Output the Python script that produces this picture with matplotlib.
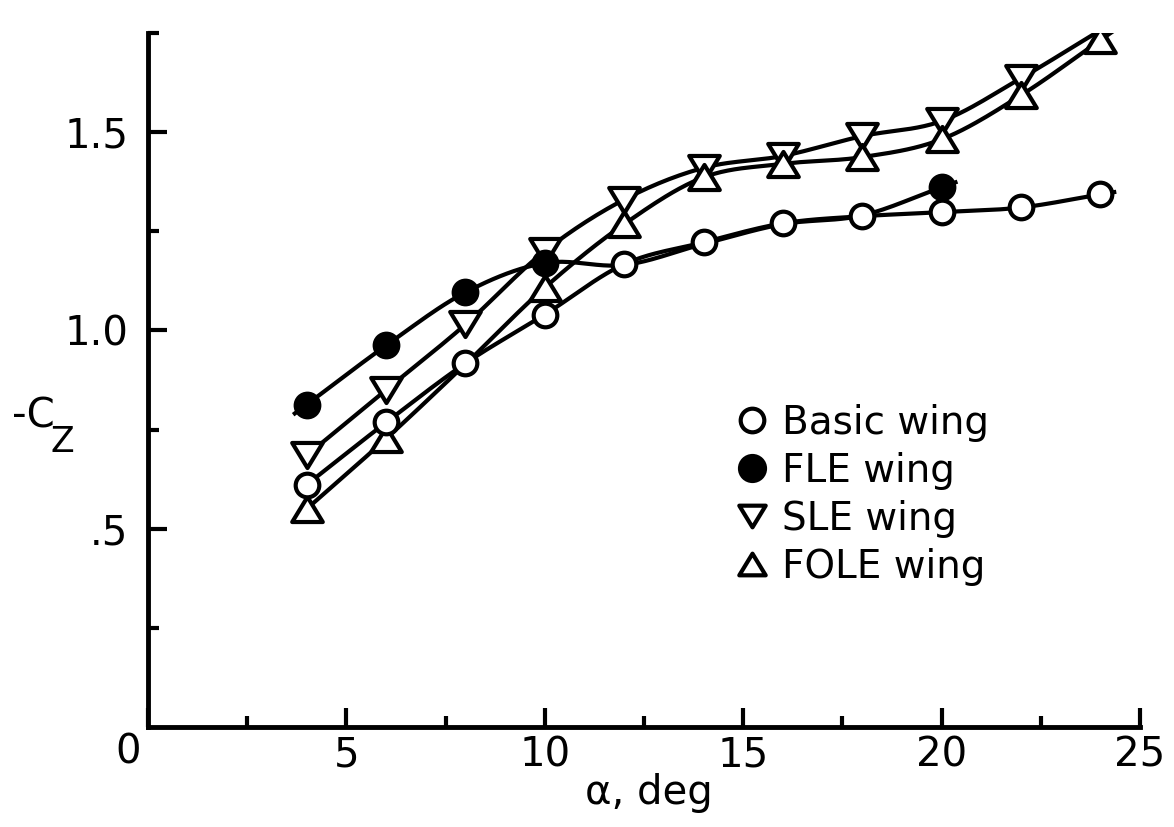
import numpy as np
import matplotlib.pyplot as plt
from matplotlib.path import Path
from matplotlib.lines import Line2D

plt.rcParams['font.family'] = ['DejaVu Sans']

# normal-force coefficient against angle of attack
alpha = [4, 6, 8, 10, 12, 14, 16, 18, 20, 22, 24]
basic = [0.611, 0.768, 0.917, 1.040, 1.167, 1.222, 1.270, 1.288, 1.298, 1.310, 1.343]
sle = [0.685, 0.850, 1.015, 1.200, 1.330, 1.410, 1.440, 1.490, 1.528, 1.636, 1.757]
fole = [0.550, 0.727, 0.915, 1.108, 1.268, 1.386, 1.420, 1.437, 1.482, 1.593, 1.732]
fole_symbols = [0, 1, 3, 4, 5, 6, 7, 8, 9, 10]

fle_alpha = [4, 6, 8, 10, 12, 14, 16, 18, 20]
fle = [0.813, 0.962, 1.096, 1.170, 1.165, 1.218, 1.268, 1.290, 1.361]
fle_symbols = [0, 1, 2, 3, 8]

labels = ['Basic wing', 'FLE wing', 'SLE wing', 'FOLE wing']


def faired(x, y, head=0.0, tail=0.0, n=24):
    # Catmull-Rom fairing through the points, with short straight stubs at the ends
    x = np.asarray(x, float)
    y = np.asarray(y, float)
    px = np.concatenate([[2 * x[0] - x[1]], x, [2 * x[-1] - x[-2]]])
    py = np.concatenate([[2 * y[0] - y[1]], y, [2 * y[-1] - y[-2]]])
    t = np.linspace(0, 1, n)
    xs, ys = [], []
    for i in range(1, len(px) - 2):
        p0, p1, p2, p3 = py[i - 1], py[i], py[i + 1], py[i + 2]
        yy = 0.5 * (2 * p1 + (p2 - p0) * t + (2 * p0 - 5 * p1 + 4 * p2 - p3) * t ** 2
                    + (3 * p1 - p0 - 3 * p2 + p3) * t ** 3)
        xs.append(px[i] + (px[i + 1] - px[i]) * t)
        ys.append(yy)
    xs = np.concatenate(xs)
    ys = np.concatenate(ys)
    if head:
        s = (y[1] - y[0]) / (x[1] - x[0])
        xs = np.concatenate([[x[0] - head], xs])
        ys = np.concatenate([[y[0] - head * s], ys])
    if tail:
        s = (y[-1] - y[-2]) / (x[-1] - x[-2])
        xs = np.concatenate([xs, [x[-1] + tail]])
        ys = np.concatenate([ys, [y[-1] + tail * s]])
    return xs, ys


def tri(up=True):
    h = 0.82 if up else -0.82
    return Path([(-1, -h), (1, -h), (0, h), (-1, -h)], closed=True)


fig = plt.figure(figsize=(11.74, 8.27), dpi=100)
ax = fig.add_axes([148 / 1174, 100 / 827, 992 / 1174, 694 / 827])

lw = 3.0
ax.plot(*faired(alpha, basic, tail=0.35), color='black', lw=lw, zorder=2)
ax.plot(*faired(fle_alpha, fle, head=0.3, tail=0.35), color='black', lw=lw, zorder=2)
ax.plot(*faired(alpha, sle, tail=0.4), color='black', lw=lw, zorder=2)
ax.plot(*faired(alpha, fole, tail=0.45), color='black', lw=lw, zorder=2)

ms = dict(ls='none', mec='black', mew=3.0, zorder=3)
ax.plot(alpha, sle, marker=tri(False), ms=22, mfc='white', **ms)
ax.plot([alpha[i] for i in fole_symbols], [fole[i] for i in fole_symbols],
        marker=tri(True), ms=22, mfc='white', **ms)
ax.plot(alpha, basic, marker='o', ms=17, mfc='white', **ms)
ax.plot([fle_alpha[i] for i in fle_symbols], [fle[i] for i in fle_symbols],
        marker='o', ms=17, mfc='black', **ms)

handles = [
    Line2D([], [], marker='o', ms=17, mfc='white', **ms),
    Line2D([], [], marker='o', ms=18, mfc='black', **ms),
    Line2D([], [], marker=tri(False), ms=19, mfc='white', **ms),
    Line2D([], [], marker=tri(True), ms=19, mfc='white', **ms),
]
ax.legend(handles, labels, loc='upper left', bbox_to_anchor=(0.572, 0.494),
          frameon=False, fontsize=28, handlelength=0.9, handletextpad=0.3,
          labelspacing=0.26, borderpad=0)

ax.set_xlim(0, 25)
ax.set_ylim(0, 1.75)
ax.set_xticks([0, 5, 10, 15, 20, 25])
ax.set_xticklabels(['', '5', '10', '15', '20', '25'])
ax.set_xticks(np.arange(2.5, 25, 5), minor=True)
ax.set_yticks([0.5, 1.0, 1.5])
ax.set_yticklabels(['.5', '1.0', '1.5'])
ax.set_yticks([0.25, 0.75, 1.25, 1.75], minor=True)

ax.tick_params(which='both', direction='in', width=3, labelsize=29)
ax.tick_params(which='major', length=14)
ax.tick_params(which='minor', length=8)
ax.tick_params(axis='x', pad=6)
ax.tick_params(axis='y', pad=14)

for side in ['top', 'right']:
    ax.spines[side].set_visible(False)
for side in ['left', 'bottom']:
    ax.spines[side].set_linewidth(3.5)

ax.text(-0.5, -0.014, '0', ha='center', va='top', fontsize=29)
ax.set_xlabel('α, deg', fontsize=29)
ax.xaxis.set_label_coords(0.505, -0.066)
fig.text(12 / 1174, 1 - 416 / 827, '-C', fontsize=29, ha='left', va='center')
fig.text(50 / 1174, 1 - 442 / 827, 'Z', fontsize=25, ha='left', va='center')

fig.savefig('out.png', dpi=100)
